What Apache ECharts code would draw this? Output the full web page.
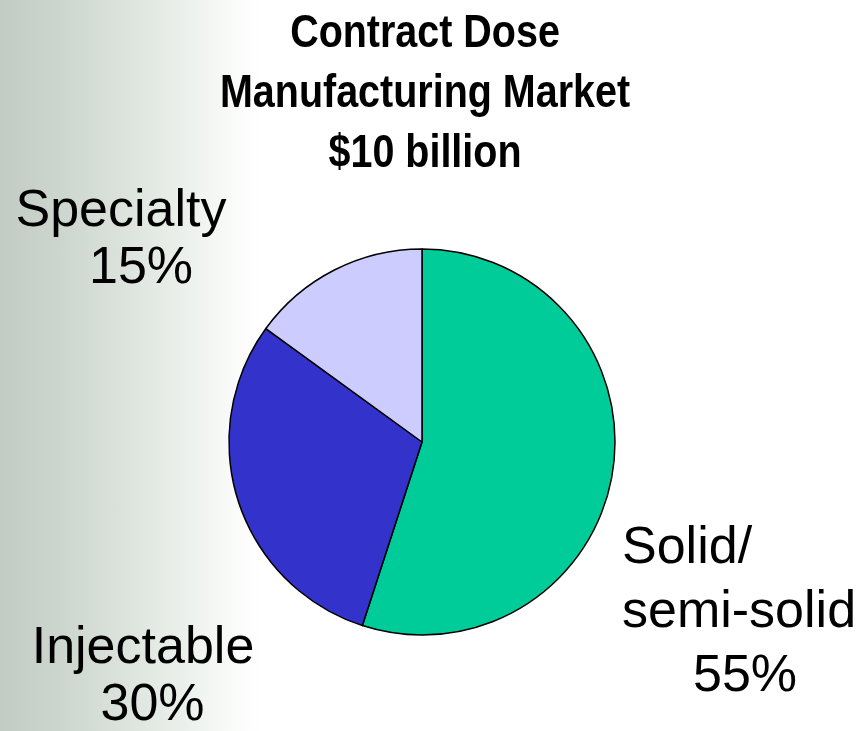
<!DOCTYPE html>
<html>
<head>
<meta charset="utf-8">
<title>Contract Dose Manufacturing Market</title>
<script src="https://cdn.jsdelivr.net/npm/echarts@6/dist/echarts.min.js"></script>
<style>
  html, body { margin: 0; padding: 0; }
  body {
    width: 865px; height: 731px; overflow: hidden;
    background: linear-gradient(to right, #c2ccc4 0px, #ccd5ce 60px, #dbe2dc 120px, #e9eee9 175px, #f3f6f3 210px, #fafbfa 235px, #ffffff 262px);
  }
  #chart { width: 865px; height: 731px; }
</style>
</head>
<body>
<div id="chart"></div>
<script>
// Market segments, clockwise from 12 o'clock
const segments = ['Solid/\nsemi-solid', 'Injectable', 'Specialty'];
const shares = [55, 30, 15];
const segmentColors = ['#00cc99', '#3333cc', '#ccccff'];
const titleLines = ['Contract Dose', 'Manufacturing Market', '$10 billion'];

// Where each segment's label block sits
const labelSpots = [
  { x: 622, y: 613, align: 'left' },
  { x: 143, y: 677, align: 'center' },
  { x: 121, y: 240, align: 'center' }
];

// Per-label line spacing and the nudge of the percentage line
const labelStyles = [
  { name: 'r', lh: 64, pct: 12, nameAlign: 'left' },
  { name: 'i', lh: 57, pct: 19, nameAlign: 'center' },
  { name: 's', lh: 57, pct: 40, nameAlign: 'center' }
];

const labelFont = 'Liberation Sans, Arial, sans-serif';
const rich = {};
labelStyles.forEach(function (s) {
  rich[s.name + 'n'] = { fontSize: 52, lineHeight: s.lh, align: s.nameAlign, color: '#000', fontFamily: labelFont };
  rich[s.name + 'p'] = { fontSize: 52, lineHeight: s.lh, align: 'center', padding: [0, 0, 0, s.pct], color: '#000', fontFamily: labelFont };
});

const chart = echarts.init(document.getElementById('chart'), null, { renderer: 'canvas' });

chart.setOption({
  backgroundColor: 'transparent',
  animation: false,
  // Heading set in a narrow bold face (horizontally condensed sans)
  graphic: [{
    type: 'text',
    x: 425,
    y: 94,
    scaleX: 0.858,
    silent: true,
    style: {
      text: titleLines.join('\n'),
      fontFamily: 'Liberation Sans, Arial, sans-serif',
      fontWeight: 'bold',
      fontSize: 46,
      lineHeight: 60,
      align: 'center',
      verticalAlign: 'middle',
      fill: '#000'
    }
  }],
  series: [{
    type: 'pie',
    center: [422, 442],
    radius: 193,
    startAngle: 90,
    clockwise: true,
    avoidLabelOverlap: false,
    itemStyle: { borderColor: '#000', borderWidth: 1.5 },
    emphasis: { disabled: true },
    labelLine: { show: false },
    label: {
      show: true,
      position: 'outside',
      formatter: function (p) {
        const s = labelStyles[p.dataIndex].name;
        return p.name.split('\n').map(function (t) { return '{' + s + 'n|' + t + '}'; }).join('\n') +
          '\n{' + s + 'p|' + p.value + '%}';
      },
      rich: rich
    },
    labelLayout: function (params) {
      const spot = labelSpots[params.dataIndex];
      return { x: spot.x, y: spot.y, align: spot.align, verticalAlign: 'middle' };
    },
    data: segments.map(function (name, i) {
      return { name: name, value: shares[i], itemStyle: { color: segmentColors[i] } };
    })
  }]
});
</script>
</body>
</html>
